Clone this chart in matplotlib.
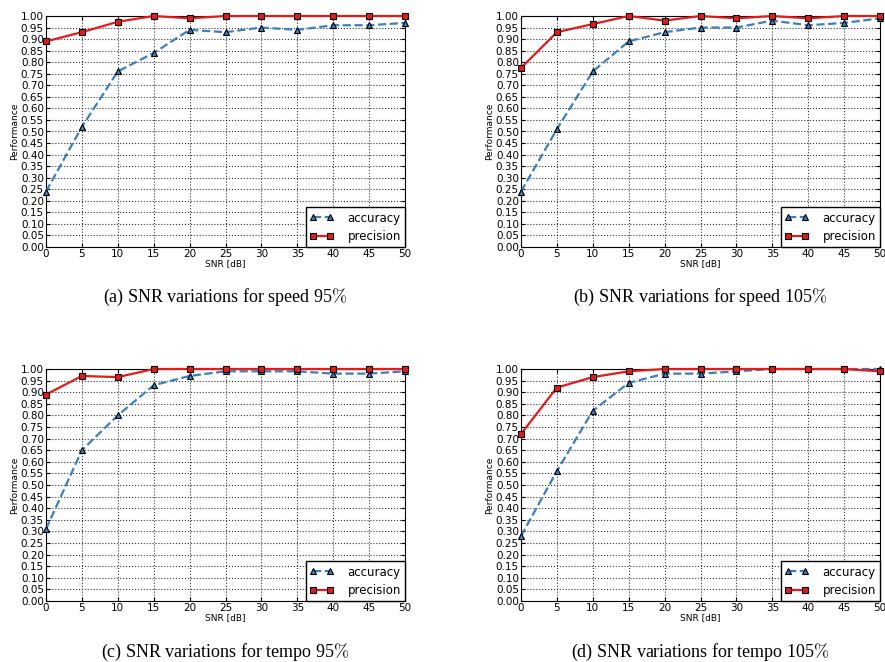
import numpy as np
import matplotlib
matplotlib.use("Agg")
import matplotlib.pyplot as plt

snr = [0, 5, 10, 15, 20, 25, 30, 35, 40, 45, 50]

# accuracy / precision for each panel
acc_speed95 = [0.24, 0.52, 0.76, 0.84, 0.94, 0.93, 0.95, 0.94, 0.96, 0.96, 0.97]
prec_speed95 = [0.89, 0.93, 0.975, 1.0, 0.99, 1.0, 1.0, 1.0, 1.0, 1.0, 1.0]
acc_speed105 = [0.24, 0.51, 0.76, 0.89, 0.93, 0.95, 0.95, 0.98, 0.96, 0.97, 0.99]
prec_speed105 = [0.775, 0.93, 0.965, 1.0, 0.98, 1.0, 0.99, 1.0, 0.99, 1.0, 1.0]
acc_tempo95 = [0.31, 0.65, 0.80, 0.93, 0.97, 0.99, 0.99, 0.99, 0.98, 0.98, 0.99]
prec_tempo95 = [0.89, 0.97, 0.965, 1.0, 1.0, 1.0, 1.0, 1.0, 1.0, 1.0, 1.0]
acc_tempo105 = [0.28, 0.56, 0.82, 0.94, 0.98, 0.98, 0.99, 1.0, 1.0, 1.0, 1.0]
prec_tempo105 = [0.72, 0.92, 0.965, 0.99, 1.0, 1.0, 1.0, 1.0, 1.0, 1.0, 0.99]

captions = [
    r"(a) SNR variations for speed 95$\%$",
    r"(b) SNR variations for speed 105$\%$",
    r"(c) SNR variations for tempo 95$\%$",
    r"(d) SNR variations for tempo 105$\%$",
]
panels = [
    (acc_speed95, prec_speed95),
    (acc_speed105, prec_speed105),
    (acc_tempo95, prec_tempo95),
    (acc_tempo105, prec_tempo105),
]

W, H = 885, 662
# pixel boxes (left, top, right, bottom) of each axes
boxes = [(46, 16, 405, 247), (521, 16, 880, 247),
         (46, 369, 405, 601), (521, 369, 880, 601)]
caption_pos = [(225, 297), (700, 297), (225, 652), (700, 652)]

plt.rcParams["mathtext.fontset"] = "cm"
fig = plt.figure(figsize=(W / 100, H / 100), dpi=100)

for (acc, prec), box, cap, cpos in zip(panels, boxes, captions, caption_pos):
    l, t, r, b = box
    ax = fig.add_axes([l / W, 1 - b / H, (r - l) / W, (b - t) / H])
    ax.plot(snr, acc, "--", color="#3a7fc1", lw=1.6, marker="^", ms=5,
            mfc="#3a7fc1", mec="black", mew=0.8, label="accuracy", clip_on=False, zorder=3)
    ax.plot(snr, prec, "-", color="#e41a1c", lw=1.6, marker="s", ms=5,
            mfc="#e41a1c", mec="black", mew=0.8, label="precision", clip_on=False, zorder=4)
    ax.set_xlim(0, 50)
    ax.set_ylim(0, 1)
    ax.set_xticks(snr)
    ax.set_yticks(np.arange(0, 1.001, 0.05))
    ax.set_yticklabels([f"{v:.2f}" for v in np.arange(0, 1.001, 0.05)])
    ax.tick_params(direction="in", labelsize=7.5, length=3, pad=1.5, top=True, right=True)
    ax.grid(True, linestyle=":", color="black", lw=0.8, alpha=0.8)
    ax.set_xlabel("SNR [dB]", fontsize=6.5, labelpad=0)
    ax.set_ylabel("Performance", fontsize=6.5, labelpad=1)
    for s in ax.spines.values():
        s.set_linewidth(0.8)
    leg = ax.legend(loc="lower right", fontsize=8.5, fancybox=False, framealpha=1,
                    borderaxespad=0, numpoints=2, handlelength=2.0, handletextpad=1.2,
                    borderpad=0.35, labelspacing=0.45)
    leg.get_frame().set_edgecolor("black")
    leg.get_frame().set_linewidth(1.0)
    fig.text(cpos[0] / W, 1 - cpos[1] / H, cap, ha="center", va="center",
             fontsize=13, family="Liberation Serif")

fig.savefig("out.png", dpi=100)
